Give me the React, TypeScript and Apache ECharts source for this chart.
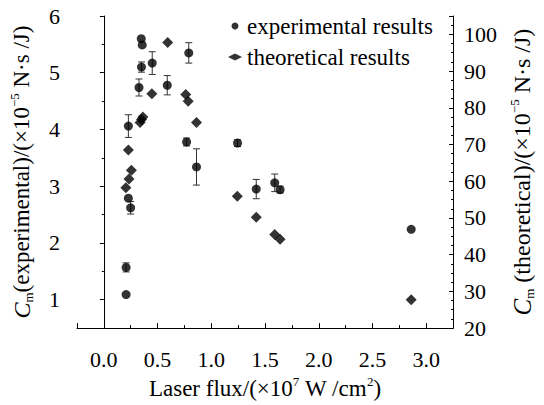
import React, { useEffect, useRef } from "react";
import * as echarts from "echarts";

// Experimental results (left axis) with error bars
const expX = [0.207, 0.207, 0.228, 0.249, 0.228, 0.327, 0.35, 0.348, 0.357, 0.45, 0.59, 0.77, 0.79, 0.862, 1.244, 1.418, 1.59, 1.64, 2.86];
const expY = [1.09, 1.57, 2.79, 2.62, 4.06, 4.74, 5.1, 5.6, 5.49, 5.17, 4.78, 3.78, 5.35, 3.34, 3.76, 2.95, 3.06, 2.94, 2.24];
const expErr = [0, 0.08, 0, 0.11, 0.2, 0.15, 0.09, 0, 0, 0.2, 0.17, 0.07, 0.18, 0.32, 0.06, 0.17, 0.155, 0.06, 0];

// Theoretical results (right axis)
const theoX = [0.205, 0.234, 0.256, 0.228, 0.337, 0.35, 0.363, 0.447, 0.594, 0.762, 0.785, 0.862, 1.242, 1.418, 1.59, 1.64, 2.86];
const theoY = [58.2, 60.6, 63.0, 68.5, 76.0, 76.8, 77.5, 83.8, 97.8, 83.6, 81.8, 76.0, 55.9, 50.2, 45.5, 44.2, 27.7];

const legendNames = ["experimental results", "theoretical results"];
const xTickLabels = ["0.0", "0.5", "1.0", "1.5", "2.0", "2.5", "3.0"];

const FONT = "Liberation Serif, Times New Roman, serif";

export default function App() {
  const ref = useRef<HTMLDivElement>(null);
  useEffect(() => {
    if (!ref.current) return;
    const chart = echarts.init(ref.current, null, { renderer: "svg" });
    const base = { fontSize: 22, fontFamily: FONT, color: "#000" };
    const makeRich = (fs: number) => ({
      n: { fontSize: fs, fontFamily: FONT, color: "#000", lineHeight: fs + 4 },
      i: { fontSize: fs + 1, fontFamily: FONT, color: "#000", fontStyle: "italic", lineHeight: fs + 4 },
      sup: { fontSize: 13, fontFamily: FONT, color: "#000", verticalAlign: "top", lineHeight: 13 },
      sub: { fontSize: 13, fontFamily: FONT, color: "#000", verticalAlign: "bottom", lineHeight: 13 },
    });
    const axisLine = { show: true, lineStyle: { color: "#000", width: 1 } };
    chart.setOption({
      animation: false,
      textStyle: { fontFamily: FONT },
      grid: { left: 75, right: 78, top: 16, bottom: 71, containLabel: false },
      legend: {
        data: [
          { name: legendNames[0], icon: "circle" },
          { name: legendNames[1], icon: "diamond" },
        ],
        orient: "vertical",
        left: 228,
        top: 14,
        itemWidth: 14,
        itemHeight: 7,
        itemGap: 7,
        padding: 0,
        textStyle: { fontSize: 23, fontFamily: FONT, color: "#000", lineHeight: 24 },
        selectedMode: false,
      },
      xAxis: {
        type: "value",
        min: -0.25,
        max: 3.25,
        splitNumber: 7,
        axisLine,
        splitLine: { show: false },
        axisTick: { show: true, inside: true, length: 5, lineStyle: { color: "#000" } },
        minorTick: { show: true, splitNumber: 2, length: 3, lineStyle: { color: "#000" } },
        axisLabel: {
          ...base,
          margin: 20,
          formatter: (v: number) => {
            const s = v.toFixed(1);
            return xTickLabels.includes(s) && Math.abs(v * 2 - Math.round(v * 2)) < 1e-6 ? s : "";
          },
        },
        name: "{n|Laser flux/(×10}{sup|7}{n| W /cm}{sup|2}{n|)}",
        nameLocation: "middle",
        nameGap: 38,
        nameTextStyle: { rich: makeRich(23) },
      },
      yAxis: [
        {
          type: "value",
          position: "left",
          min: 0.5,
          max: 6,
          splitNumber: 5,
          axisLine,
          splitLine: { show: false },
          axisTick: { show: true, inside: false, length: 4, lineStyle: { color: "#000" } },
          minorTick: { show: true, splitNumber: 2, length: 2, lineStyle: { color: "#000" } },
          axisLabel: {
            ...base,
            margin: 17,
            formatter: (v: number) => (Math.abs(v - Math.round(v)) < 1e-6 ? String(Math.round(v)) : ""),
          },
          name: "{i|C}{sub|m}{n|(experimental)/(×10}{sup|−5}{n| N·s /J)}",
          nameLocation: "middle",
          nameRotate: 90,
          nameGap: 42,
          nameTextStyle: { rich: makeRich(23) },
        },
        {
          type: "value",
          position: "right",
          min: 20,
          max: 105,
          interval: 10,
          axisLine,
          splitLine: { show: false },
          axisTick: { show: true, inside: true, length: 4, lineStyle: { color: "#000" } },
          minorTick: { show: true, splitNumber: 4, length: 2, lineStyle: { color: "#000" } },
          axisLabel: {
            ...base,
            margin: 11,
            formatter: (v: number) => (v <= 100 ? String(v) : ""),
          },
          name: "{i|C}{sub|m}{n| (theoretical)/(×10}{sup|−5}{n| N·s /J)}",
          nameLocation: "middle",
          nameRotate: 90,
          nameGap: 50,
          nameTextStyle: { rich: makeRich(24) },
        },
      ],
      series: [
        {
          type: "custom",
          name: "errorbars",
          xAxisIndex: 0,
          yAxisIndex: 0,
          data: expX.map((x, i) => [x, expY[i], expErr[i]]),
          encode: { x: 0, y: 1 },
          z: 1,
          renderItem: (params: any, api: any) => {
            const x = api.value(0);
            const y = api.value(1);
            const e = api.value(2);
            if (!e) return null;
            const top = api.coord([x, y + e]);
            const bot = api.coord([x, y - e]);
            const hw = 3.5;
            const style = { stroke: "#333", lineWidth: 1 };
            return {
              type: "group",
              children: [
                { type: "line", shape: { x1: top[0], y1: top[1], x2: bot[0], y2: bot[1] }, style },
                { type: "line", shape: { x1: top[0] - hw, y1: top[1], x2: top[0] + hw, y2: top[1] }, style },
                { type: "line", shape: { x1: bot[0] - hw, y1: bot[1], x2: bot[0] + hw, y2: bot[1] }, style },
              ],
            };
          },
        },
        {
          type: "scatter",
          name: legendNames[0],
          xAxisIndex: 0,
          yAxisIndex: 0,
          symbol: "circle",
          symbolSize: 9,
          itemStyle: { color: "#000" },
          z: 3,
          data: expX.map((x, i) => [x, expY[i]]),
        },
        {
          type: "scatter",
          name: legendNames[1],
          xAxisIndex: 0,
          yAxisIndex: 1,
          symbol: "diamond",
          symbolSize: 11,
          itemStyle: { color: "#000" },
          z: 3,
          data: theoX.map((x, i) => [x, theoY[i]]),
        },
      ],
    });
    return () => chart.dispose();
  }, []);
  return <div ref={ref} style={{ position: "fixed", left: 0, top: 0, width: 544, height: 405, background: "#fff" }} />;
}
